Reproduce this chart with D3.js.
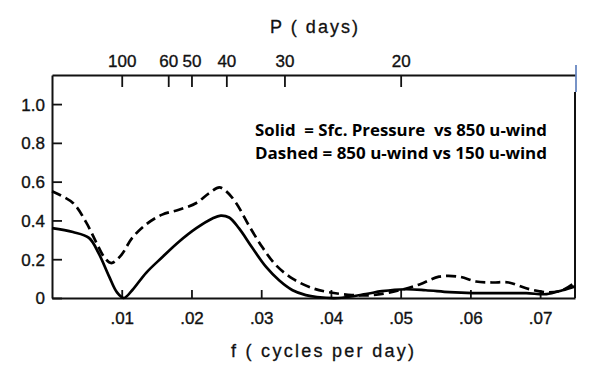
<!DOCTYPE html>
<html lang="en">
<head>
<meta charset="utf-8">
<title>Coherence spectrum</title>
<script src="https://cdn.jsdelivr.net/npm/d3@7"></script>
<style>
  body { margin: 0; background: #fff; }
  svg { display: block; }
  .tick text { font-family: "Liberation Sans", Arial, sans-serif; font-size: 17px; fill: #111; stroke: #111; stroke-width: 0.35px; }
  .title { font-family: "Liberation Sans", Arial, sans-serif; font-size: 18px; fill: #111; stroke: #111; stroke-width: 0.3px; }
  .legend { font-family: "Open Sans", "Liberation Sans", sans-serif; font-size: 16px; font-weight: bold; fill: #000; }
</style>
</head>
<body>
<div id="chart"></div>
<script>
// frequency (cycles per day) and coherence
var fSolid = [0, .003, .0053, .0067, .0082, .0093, .0103, .0115, .0135, .0158, .0182, .0207, .023, .0242, .0254,
              .0268, .0287, .0307, .0326, .0345, .0364, .038, .041, .045, .0473, .0507, .0536, .057, .0603, .0641,
              .068, .0709, .0732, .075];
var solid  = [.36, .34, .31, .23, .11, .03, 0, .04, .13, .21, .29, .36, .41, .425, .415,
              .36, .26, .16, .09, .04, .015, .005, 0, .02, .035, .045, .04, .03, .025, .025,
              .025, .02, .04, .06];

var fDashed = [0, .003, .0049, .0063, .0075, .0085, .0099, .0115, .0135, .0158, .0182, .0207, .0225, .024, .025,
               .0264, .0283, .0302, .0321, .0345, .0374, .0397, .043, .046, .0498, .0527, .0555, .0584, .0608,
               .0631, .0655, .068, .0709, .0732, .075];
var dashed  = [.55, .49, .39, .29, .21, .18, .22, .31, .38, .43, .455, .49, .54, .57, .55,
               .49, .37, .26, .17, .10, .05, .03, .015, .015, .04, .07, .11, .11, .085,
               .08, .08, .05, .03, .04, .08];

var fTicks = [.01, .02, .03, .04, .05, .06, .07];
var yTicks = [0, .2, .4, .6, .8, 1.0];
var periods = [100, 60, 50, 40, 30, 20];

var legendLines = ["Solid  = Sfc. Pressure  vs 850 u-wind",
                   "Dashed = 850 u-wind vs 150 u-wind"];

var W = 598, H = 382;
var margin = {top: 75, right: 23, bottom: 84, left: 52},
    width = W - margin.left - margin.right,
    height = H - margin.top - margin.bottom;

var x = d3.scaleLinear().domain([0, 0.075]).range([0, width]);
var y = d3.scaleLinear().domain([0, 1.15]).range([height, 0]);

var svg = d3.select("#chart").append("svg")
    .attr("width", W).attr("height", H)
  .append("g")
    .attr("transform", "translate(" + margin.left + "," + margin.top + ")");

// bottom axis, ticks pointing up into the plot
var xAxis = svg.append("g")
    .attr("transform", "translate(0," + height + ")")
    .call(d3.axisBottom(x).tickValues(fTicks).tickSizeInner(-8).tickSizeOuter(0).tickPadding(14)
      .tickFormat(function(d) { return d3.format(".2f")(d).replace(/^0/, ""); }));

// left axis, ticks pointing right
var yAxis = svg.append("g")
    .call(d3.axisLeft(y).tickValues(yTicks).tickSizeInner(-10).tickSizeOuter(0).tickPadding(7)
      .tickFormat(function(d) { return d === 0 ? "0" : d3.format(".1f")(d); }));

// top axis in period (days), ticks pointing down
var topAxis = svg.append("g")
    .call(d3.axisTop(x).tickValues(periods.map(function(p) { return 1 / p; }))
      .tickSizeInner(-12).tickSizeOuter(0).tickPadding(8)
      .tickFormat(function(d) { return Math.round(1 / d); }));

[xAxis, yAxis, topAxis].forEach(function(a) {
  a.select(".domain").attr("stroke", "#111").attr("stroke-width", 2);
  a.selectAll(".tick line").attr("stroke", "#111").attr("stroke-width", 1.8);
});
yAxis.selectAll(".tick text").attr("dy", "0.35em");

// right frame
svg.append("line")
    .attr("x1", width).attr("x2", width).attr("y1", 17).attr("y2", height)
    .attr("stroke", "#111").attr("stroke-width", 2);
svg.append("line")
    .attr("x1", width + 1).attr("x2", width + 1).attr("y1", -10).attr("y2", 17)
    .attr("stroke", "#4a6fb5").attr("stroke-width", 1.5);

// curves
var line = d3.line()
    .x(function(d) { return x(d[0]); })
    .y(function(d) { return y(d[1]); })
    .curve(d3.curveCatmullRom.alpha(0.5));

svg.append("path")
    .datum(d3.zip(fSolid, solid))
    .attr("fill", "none").attr("stroke", "#000").attr("stroke-width", 2.7)
    .attr("stroke-linejoin", "round")
    .attr("d", line);

svg.append("path")
    .datum(d3.zip(fDashed, dashed))
    .attr("fill", "none").attr("stroke", "#000").attr("stroke-width", 2.7)
    .attr("stroke-dasharray", "10,5")
    .attr("d", line);

// axis titles
svg.append("text").attr("class", "title")
    .attr("x", 270 - margin.left).attr("y", 27 - margin.top)
    .attr("dy", "0.35em")
    .attr("textLength", 88).attr("lengthAdjust", "spacing")
    .text("P ( days)");

svg.append("text").attr("class", "title")
    .attr("x", 231 - margin.left).attr("y", 351 - margin.top)
    .attr("dy", "0.35em")
    .attr("textLength", 183).attr("lengthAdjust", "spacing")
    .text("f ( cycles per day)");

// legend text
svg.selectAll(".legend")
    .data(legendLines)
  .enter().append("text")
    .attr("class", "legend")
    .attr("x", 255 - margin.left)
    .attr("y", function(d, i) { return 136 - margin.top + i * 22.6; })
    .attr("textLength", 292)
    .attr("lengthAdjust", "spacingAndGlyphs")
    .attr("xml:space", "preserve")
    .style("white-space", "pre")
    .text(function(d) { return d; });
</script>
</body>
</html>
